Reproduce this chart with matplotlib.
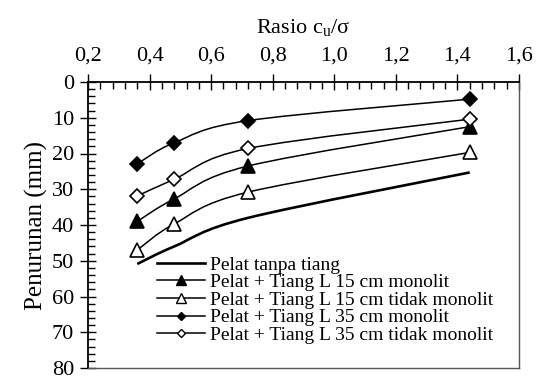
import numpy as np
import matplotlib
matplotlib.use('Agg')
import matplotlib.pyplot as plt
from matplotlib.path import Path
from matplotlib.patches import PathPatch
from matplotlib.ticker import MultipleLocator, FuncFormatter

plt.rcParams['font.family'] = ['Liberation Serif', 'DejaVu Serif']
plt.rcParams['mathtext.fontset'] = 'custom'
plt.rcParams['mathtext.rm'] = 'Liberation Serif'

# data
rasio = [0.36, 0.48, 0.72, 1.44]
tanpa_tiang      = [50.9, 46.0, 38.0, 25.3]
l15_monolit      = [39.0, 32.7, 23.5, 12.5]
l15_tidak        = [47.0, 39.7, 30.8, 19.7]
l35_monolit      = [22.9, 17.0, 10.8, 4.8]
l35_tidak        = [31.9, 27.2, 18.6, 10.4]

labels = ['Pelat tanpa tiang',
          'Pelat + Tiang L 15 cm monolit',
          'Pelat + Tiang L 15 cm tidak monolit',
          'Pelat + Tiang L 35 cm monolit',
          'Pelat + Tiang L 35 cm tidak monolit']


def smooth_path(x, y):
  # excel-like smoothed line: catmull-rom converted to cubic bezier
  p = np.column_stack([x, y]).astype(float)
  pts = np.vstack([p[0], p, p[-1]])
  verts = [p[0]]
  codes = [Path.MOVETO]
  for i in range(1, len(pts) - 2):
    c1 = pts[i] + (pts[i+1] - pts[i-1]) / 6.0
    c2 = pts[i+1] - (pts[i+2] - pts[i]) / 6.0
    verts += [c1, c2, pts[i+1]]
    codes += [Path.CURVE4] * 3
  return Path(verts, codes)


fig = plt.figure(figsize=(5.39, 3.76), dpi=100)
ax = fig.add_axes([88/539, 1-368/376, (519-88)/539, (368-82)/376])

series = [
  (tanpa_tiang, None,  None,   1.9, 0),
  (l15_monolit, '^',   'black', 1.1, 10),
  (l15_tidak,   '^',   'white', 1.1, 10),
  (l35_monolit, 'D',   'black', 1.1, 7),
  (l35_tidak,   'D',   'white', 1.1, 7),
]

handles = []
for (yv, mk, fc, lw, ms), lab in zip(series, labels):
  patch = PathPatch(smooth_path(rasio, yv), fill=False, edgecolor='black', lw=lw, zorder=2)
  ax.add_patch(patch)
  if mk is not None:
    ax.plot(rasio, yv, ls='none', marker=mk, ms=ms, mfc=fc, mec='black', mew=1.2, zorder=3)
  h, = ax.plot([], [], color='black', lw=lw, marker=mk if mk else None,
               ms=ms*0.65, mfc=fc, mec='black', mew=1.0)
  handles.append(h)

ax.set_xlim(0.2, 1.6)
ax.set_ylim(80, 0)

ax.xaxis.set_ticks_position('top')
ax.xaxis.set_label_position('top')
ax.xaxis.set_major_locator(MultipleLocator(0.2))
ax.xaxis.set_minor_locator(MultipleLocator(0.04))
ax.yaxis.set_major_locator(MultipleLocator(10))
ax.yaxis.set_minor_locator(MultipleLocator(2))
ax.xaxis.set_major_formatter(FuncFormatter(lambda v, p: ('%.1f' % v).replace('.', ',')))
ax.yaxis.set_major_formatter(FuncFormatter(lambda v, p: '%d' % round(v)))

ax.tick_params(which='major', direction='inout', length=12, width=1.0, labelsize=16, pad=4)
ax.tick_params(axis='x', which='major', pad=6)
ax.tick_params(which='minor', direction='in', length=5, width=1.0)
ax.tick_params(axis='x', which='both', top=True, bottom=False)
ax.tick_params(axis='y', which='both', left=True, right=False)

for s in ['left', 'top']:
  ax.spines[s].set_linewidth(1.3)
  ax.spines[s].set_color('black')
for s in ['right', 'bottom']:
  ax.spines[s].set_linewidth(1.0)
  ax.spines[s].set_color('#555555')

ax.set_xlabel(r'Rasio c$_\mathregular{u}$/σ', fontsize=16, labelpad=9)
ax.set_ylabel('Penurunan (mm)', fontsize=18, labelpad=3)

ax.legend(handles, labels, loc='upper left', frameon=False, fontsize=14,
          bbox_to_anchor=(157/539, 1-256/376), bbox_transform=fig.transFigure,
          borderpad=0, borderaxespad=0, handlelength=2.45, handletextpad=0.3,
          labelspacing=0.0)

fig.savefig('out.png', dpi=100)
